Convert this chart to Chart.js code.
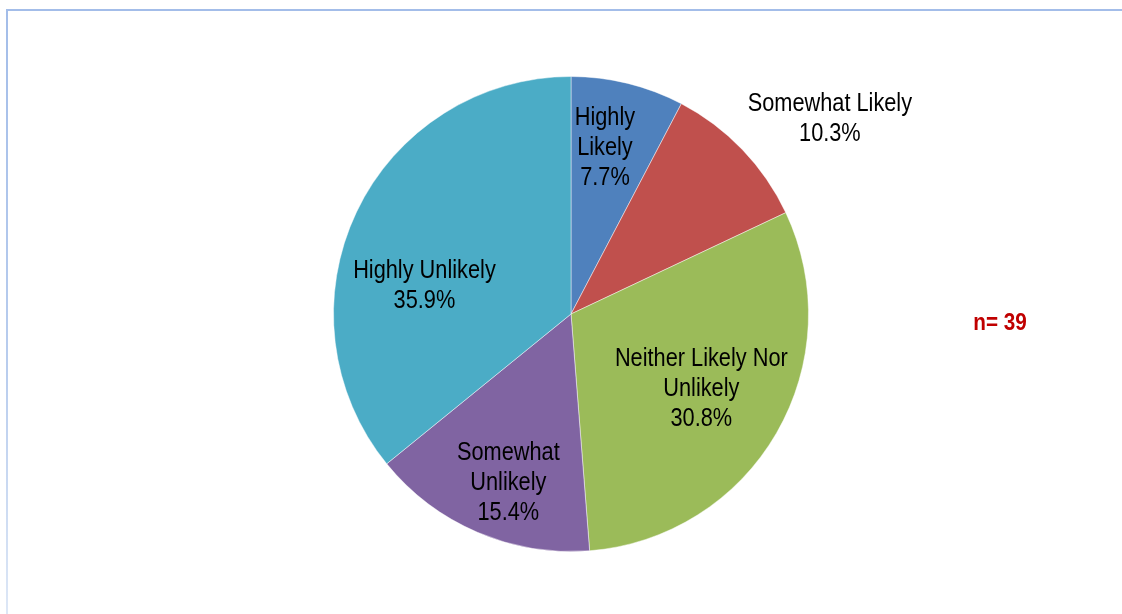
<!DOCTYPE html>
<html>
<head>
<meta charset="utf-8">
<script src="https://cdn.jsdelivr.net/npm/chart.js@4/dist/chart.umd.min.js"></script>
<style>
  html, body { margin: 0; padding: 0; background: #fff; }
  #wrap { width: 1122px; height: 614px; position: relative; }
</style>
</head>
<body>
<div id="wrap"><canvas id="pieChart" width="1122" height="614"></canvas></div>
<script>
// datos
const categorias = [
  ["Highly", "Likely"],
  ["Somewhat Likely"],
  ["Neither Likely Nor", "Unlikely"],
  ["Somewhat", "Unlikely"],
  ["Highly Unlikely"]
];
const porcentajes = [7.7, 10.3, 30.8, 15.4, 35.9];
const colores = ["#4f81bd", "#c0504d", "#9bbb59", "#8064a2", "#4bacc6"];
const nTexto = "n= 39";

// posicion de etiquetas: fraccion del radio y ajuste de angulo (grados)
const etiquetaRadio = [0.72, 1.37, 0.63, 0.75, 0.63];
const etiquetaGiro = [-2.4, 6.5, -0.7, -2.6, -13.8];

const FONT = "'Liberation Sans', Arial, sans-serif";
const ANGOSTO = 0.87; // simula Arial Narrow

const marcoPlugin = {
  id: "marco",
  beforeDraw(chart) {
    const ctx = chart.ctx;
    ctx.save();
    ctx.fillStyle = "#a3bde9";
    ctx.fillRect(6, 9, 1116, 2);
    const g = ctx.createLinearGradient(0, 9, 0, 614);
    g.addColorStop(0, "#a3bde9");
    g.addColorStop(0.6, "#b9cdee");
    g.addColorStop(1, "#dde7f6");
    ctx.fillStyle = g;
    ctx.fillRect(6, 9, 2, 605);
    ctx.restore();
  }
};

function textoAngosto(ctx, t, x, y, esc) {
  ctx.save();
  ctx.translate(x, y);
  ctx.scale(esc, 1);
  ctx.fillText(t, 0, 0);
  ctx.restore();
}

const etiquetasPlugin = {
  id: "etiquetas",
  afterDatasetsDraw(chart) {
    const ctx = chart.ctx;
    const meta = chart.getDatasetMeta(0);
    ctx.save();
    ctx.font = "25px " + FONT;
    ctx.fillStyle = "#000";
    ctx.textAlign = "center";
    ctx.textBaseline = "middle";
    meta.data.forEach((arc, i) => {
      const p = arc.getProps(["x", "y", "startAngle", "endAngle", "outerRadius"], true);
      const ang = (p.startAngle + p.endAngle) / 2 + etiquetaGiro[i] * Math.PI / 180;
      const r = p.outerRadius * etiquetaRadio[i];
      const cx = p.x + Math.cos(ang) * r;
      const cy = p.y + Math.sin(ang) * r + 2;
      const lineas = categorias[i].concat([porcentajes[i].toFixed(1) + "%"]);
      const lh = 30;
      const y0 = cy - (lineas.length - 1) * lh / 2;
      lineas.forEach((t, k) => textoAngosto(ctx, t, cx, y0 + k * lh, ANGOSTO));
    });
    ctx.font = "bold 23px " + FONT;
    ctx.fillStyle = "#c00000";
    textoAngosto(ctx, nTexto, 1000, 324, 0.9);
    ctx.restore();
  }
};

const ctxPie = document.getElementById("pieChart").getContext("2d");
new Chart(ctxPie, {
  type: "pie",
  data: {
    labels: categorias.map(c => c.join(" ")),
    datasets: [{
      data: porcentajes,
      backgroundColor: colores,
      borderColor: "rgba(255,255,255,0.45)",
      borderWidth: 1
    }]
  },
  options: {
    responsive: false,
    animation: false,
    layout: { padding: { top: 76, bottom: 62, left: 20, right: 0 } },
    plugins: {
      legend: { display: false },
      tooltip: { enabled: false }
    }
  },
  plugins: [marcoPlugin, etiquetasPlugin]
});
</script>
</body>
</html>
